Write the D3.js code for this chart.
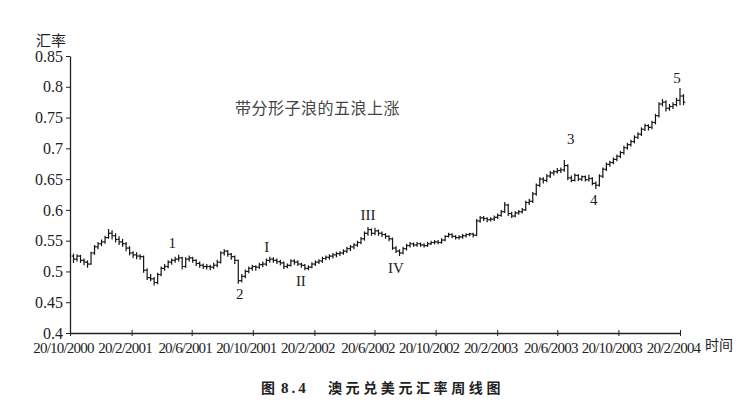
<!DOCTYPE html>
<html>
<head>
<meta charset="utf-8">
<script src="https://cdnjs.cloudflare.com/ajax/libs/d3/7.8.5/d3.min.js"></script>
<style>
body { margin: 0; background: #fff; }
svg text { font-family: "Liberation Serif", "DejaVu Serif", serif; fill: #222; }
svg .cjk { font-family: "Noto Sans CJK SC", sans-serif; }
</style>
</head>
<body>
<div id="wrapper"></div>
<script>
// weekly AUD/USD bars, first week ending 27/10/2000
var firstWeek = "27/10/2000"
var opens = [
0.525,0.520,0.525,0.518,0.515,0.512,0.530,0.540,0.545,0.548,
0.555,0.562,0.558,0.552,0.548,0.545,0.538,0.530,0.527,0.525,
0.524,0.502,0.490,0.488,0.482,0.495,0.505,0.508,0.515,0.518,
0.520,0.522,0.508,0.520,0.522,0.518,0.513,0.510,0.508,0.508,
0.507,0.510,0.515,0.530,0.533,0.528,0.524,0.518,0.485,0.492,
0.500,0.505,0.508,0.507,0.511,0.512,0.518,0.520,0.518,0.516,
0.514,0.508,0.510,0.517,0.515,0.512,0.510,0.505,0.507,0.512,
0.515,0.517,0.521,0.523,0.525,0.527,0.529,0.530,0.533,0.537,
0.540,0.543,0.547,0.553,0.562,0.568,0.562,0.566,0.562,0.560,
0.557,0.553,0.538,0.533,0.530,0.537,0.542,0.545,0.543,0.545,
0.543,0.542,0.545,0.547,0.548,0.547,0.551,0.557,0.560,0.557,
0.555,0.556,0.558,0.560,0.561,0.559,0.582,0.587,0.586,0.584,
0.585,0.588,0.591,0.597,0.608,0.594,0.590,0.595,0.597,0.600,
0.612,0.614,0.626,0.640,0.650,0.648,0.655,0.660,0.662,0.664,
0.665,0.672,0.652,0.648,0.656,0.650,0.654,0.649,0.651,0.643,
0.640,0.655,0.666,0.674,0.677,0.682,0.687,0.693,0.701,0.706,
0.711,0.718,0.723,0.731,0.737,0.734,0.742,0.753,0.772,0.775,
0.765,0.768,0.771,0.778,0.785]
var highs = [
0.529,0.528,0.527,0.521,0.518,0.532,0.543,0.548,0.552,0.558,
0.569,0.567,0.562,0.557,0.553,0.548,0.541,0.533,0.531,0.528,
0.526,0.505,0.496,0.491,0.498,0.508,0.512,0.518,0.521,0.524,
0.527,0.524,0.523,0.526,0.524,0.520,0.516,0.513,0.512,0.511,
0.514,0.519,0.533,0.536,0.535,0.530,0.526,0.519,0.496,0.503,
0.508,0.511,0.510,0.514,0.516,0.521,0.524,0.523,0.521,0.519,
0.516,0.513,0.520,0.520,0.518,0.514,0.512,0.510,0.515,0.518,
0.520,0.524,0.526,0.528,0.530,0.532,0.533,0.536,0.540,0.543,
0.546,0.550,0.556,0.565,0.572,0.570,0.571,0.568,0.565,0.562,
0.559,0.555,0.541,0.536,0.540,0.545,0.548,0.547,0.548,0.547,
0.546,0.548,0.550,0.551,0.551,0.554,0.559,0.563,0.562,0.559,
0.559,0.561,0.562,0.563,0.563,0.585,0.590,0.590,0.588,0.588,
0.591,0.594,0.600,0.613,0.610,0.597,0.598,0.600,0.603,0.615,
0.618,0.629,0.643,0.653,0.653,0.658,0.663,0.665,0.668,0.669,
0.681,0.674,0.656,0.659,0.658,0.656,0.656,0.657,0.653,0.646,
0.658,0.669,0.677,0.680,0.685,0.690,0.696,0.704,0.709,0.714,
0.721,0.726,0.734,0.740,0.739,0.745,0.756,0.775,0.780,0.778,
0.772,0.775,0.782,0.798,0.788]
var lows = [
0.514,0.516,0.514,0.510,0.506,0.511,0.527,0.536,0.541,0.545,
0.553,0.552,0.547,0.543,0.540,0.533,0.526,0.522,0.520,0.519,
0.498,0.486,0.484,0.477,0.479,0.492,0.501,0.505,0.511,0.514,
0.516,0.503,0.506,0.516,0.514,0.509,0.506,0.504,0.503,0.502,
0.504,0.507,0.513,0.526,0.524,0.519,0.512,0.480,0.482,0.489,
0.497,0.501,0.501,0.504,0.507,0.509,0.514,0.514,0.512,0.510,
0.504,0.505,0.508,0.511,0.509,0.506,0.502,0.502,0.505,0.509,
0.512,0.514,0.518,0.519,0.521,0.523,0.525,0.527,0.530,0.533,
0.536,0.540,0.544,0.550,0.558,0.558,0.559,0.558,0.556,0.553,
0.549,0.535,0.530,0.525,0.528,0.534,0.539,0.540,0.540,0.540,
0.539,0.540,0.543,0.544,0.544,0.545,0.549,0.555,0.554,0.552,
0.552,0.553,0.555,0.557,0.555,0.557,0.579,0.582,0.580,0.581,
0.582,0.585,0.589,0.595,0.590,0.587,0.588,0.592,0.594,0.598,
0.608,0.611,0.623,0.637,0.643,0.645,0.652,0.656,0.659,0.660,
0.662,0.648,0.645,0.646,0.647,0.647,0.646,0.646,0.640,0.634,
0.638,0.652,0.663,0.670,0.674,0.679,0.684,0.690,0.698,0.703,
0.708,0.715,0.720,0.728,0.729,0.731,0.739,0.750,0.768,0.760,
0.761,0.764,0.768,0.770,0.770]
var closes = [
0.520,0.525,0.518,0.515,0.512,0.530,0.540,0.545,0.548,0.555,
0.562,0.558,0.552,0.548,0.545,0.538,0.530,0.527,0.525,0.524,
0.502,0.490,0.488,0.482,0.495,0.505,0.508,0.515,0.518,0.520,
0.522,0.508,0.520,0.522,0.518,0.513,0.510,0.508,0.508,0.507,
0.510,0.515,0.530,0.533,0.528,0.524,0.518,0.485,0.492,0.500,
0.505,0.508,0.507,0.511,0.512,0.518,0.520,0.518,0.516,0.514,
0.508,0.510,0.517,0.515,0.512,0.510,0.505,0.507,0.512,0.515,
0.517,0.521,0.523,0.525,0.527,0.529,0.530,0.533,0.537,0.540,
0.543,0.547,0.553,0.562,0.568,0.562,0.566,0.562,0.560,0.557,
0.553,0.538,0.533,0.530,0.537,0.542,0.545,0.543,0.545,0.543,
0.542,0.545,0.547,0.548,0.547,0.551,0.557,0.560,0.557,0.555,
0.556,0.558,0.560,0.561,0.559,0.582,0.587,0.586,0.584,0.585,
0.588,0.591,0.597,0.608,0.594,0.590,0.595,0.597,0.600,0.612,
0.614,0.626,0.640,0.650,0.648,0.655,0.660,0.662,0.664,0.665,
0.672,0.652,0.648,0.656,0.650,0.654,0.649,0.651,0.643,0.640,
0.655,0.666,0.674,0.677,0.682,0.687,0.693,0.701,0.706,0.711,
0.718,0.723,0.731,0.737,0.734,0.742,0.753,0.772,0.775,0.765,
0.768,0.771,0.778,0.785,0.775]

var tickLabels = ["20/10/2000", "20/2/2001", "20/6/2001", "20/10/2001", "20/2/2002", "20/6/2002",
    "20/10/2002", "20/2/2003", "20/6/2003", "20/10/2003", "20/2/2004"]
var yTicks = [0.4, 0.45, 0.5, 0.55, 0.6, 0.65, 0.7, 0.75, 0.8, 0.85]

// wave counts written on the chart
var waveNames = ["1", "2", "3", "4", "5", "I", "II", "III", "IV"]
var waveDates = ["12/5/2001", "24/9/2001", "17/7/2003", "1/9/2003", "14/2/2004",
    "17/11/2001", "24/1/2002", "7/6/2002", "2/8/2002"]
var waveValues = [0.546, 0.463, 0.715, 0.616, 0.814, 0.540, 0.4845, 0.592, 0.5056]

function draw(){
    var parse = d3.timeParse("%d/%m/%Y")
    var width = 753
    var height = 407

    var svg = d3.select("#wrapper").append("svg")
        .attr("width", width)
        .attr("height", height)

    var x = d3.scaleTime()
        .domain([parse(tickLabels[0]), parse(tickLabels[tickLabels.length - 1])])
        .range([70, 680])
    var y = d3.scaleLinear()
        .domain([0.4, 0.85])
        .range([333, 56])

    var start = parse(firstWeek)
    var bars = closes.map(function(c, i){
        return {date: d3.timeDay.offset(start, 7 * i), o: opens[i], h: highs[i], l: lows[i], c: c}
    })

    // y axis
    var yAxis = d3.axisLeft(y)
        .tickValues(yTicks)
        .tickFormat(d3.format("~g"))
        .tickSize(4)
        .tickSizeOuter(0)
        .tickPadding(3)
    var gy = svg.append("g")
        .attr("transform", "translate(70,0)")
        .call(yAxis)
    gy.selectAll("text").style("font-size", "16px")
    gy.select(".domain").attr("stroke", "#222").attr("stroke-width", 1.3)
    gy.selectAll(".tick line").attr("stroke", "#222")

    // x axis
    var xAxis = d3.axisBottom(x)
        .tickValues(tickLabels.map(parse))
        .tickFormat(d3.timeFormat("%-d/%-m/%Y"))
        .tickSize(3)
        .tickSizeOuter(0)
    var gx = svg.append("g")
        .attr("transform", "translate(0," + y(0.4) + ")")
        .call(xAxis)
    gx.selectAll(".tick line").attr("y1", -3).attr("stroke", "#222")
    gx.select(".domain").attr("stroke", "#222").attr("stroke-width", 1.3)
    gx.selectAll("text")
        .attr("y", 9)
        .attr("dx", -7)
        .style("font-size", "15px")
        .style("letter-spacing", "-0.8px")

    // weekly bars
    var g = svg.append("g")
        .attr("stroke", "#151515")
        .attr("stroke-width", 1.2)
    var bar = g.selectAll("g.bar").data(bars).enter().append("g").attr("class", "bar")
    bar.append("line")
        .attr("x1", function(d){ return x(d.date) })
        .attr("x2", function(d){ return x(d.date) })
        .attr("y1", function(d){ return y(d.h) })
        .attr("y2", function(d){ return y(d.l) })
    bar.append("line")
        .attr("x1", function(d){ return x(d.date) - 1.8 })
        .attr("x2", function(d){ return x(d.date) })
        .attr("y1", function(d){ return y(d.o) })
        .attr("y2", function(d){ return y(d.o) })
    bar.append("line")
        .attr("x1", function(d){ return x(d.date) })
        .attr("x2", function(d){ return x(d.date) + 1.8 })
        .attr("y1", function(d){ return y(d.c) })
        .attr("y2", function(d){ return y(d.c) })

    // wave labels
    svg.selectAll("text.wave").data(waveNames).enter().append("text")
        .attr("class", "wave")
        .attr("x", function(d, i){ return x(parse(waveDates[i])) })
        .attr("y", function(d, i){ return y(waveValues[i]) })
        .attr("dy", "0.35em")
        .attr("text-anchor", "middle")
        .style("font-size", "15px")
        .text(function(d){ return d })

    svg.append("text")
        .attr("class", "cjk")
        .attr("x", 36)
        .attr("y", 46)
        .style("font-size", "15px")
        .text("汇率")
    svg.append("text")
        .attr("class", "cjk")
        .attr("x", 705)
        .attr("y", 350)
        .style("font-size", "14px")
        .text("时间")
    svg.append("text")
        .attr("class", "cjk")
        .attr("x", 235)
        .attr("y", 114)
        .style("font-size", "16px")
        .style("letter-spacing", "0.5px")
        .style("fill", "#444")
        .text("带分形子浪的五浪上涨")

    var cap = svg.append("text")
        .attr("y", 393)
        .style("font-weight", "bold")
    cap.append("tspan")
        .attr("class", "cjk")
        .attr("x", 261)
        .style("font-size", "14px")
        .text("图")
    cap.append("tspan")
        .attr("x", 281)
        .style("font-size", "15px")
        .style("letter-spacing", "3px")
        .text("8.4")
    cap.append("tspan")
        .attr("class", "cjk")
        .attr("x", 328)
        .style("font-size", "14px")
        .style("letter-spacing", "3.6px")
        .text("澳元兑美元汇率周线图")
}
draw()
</script>
</body>
</html>
